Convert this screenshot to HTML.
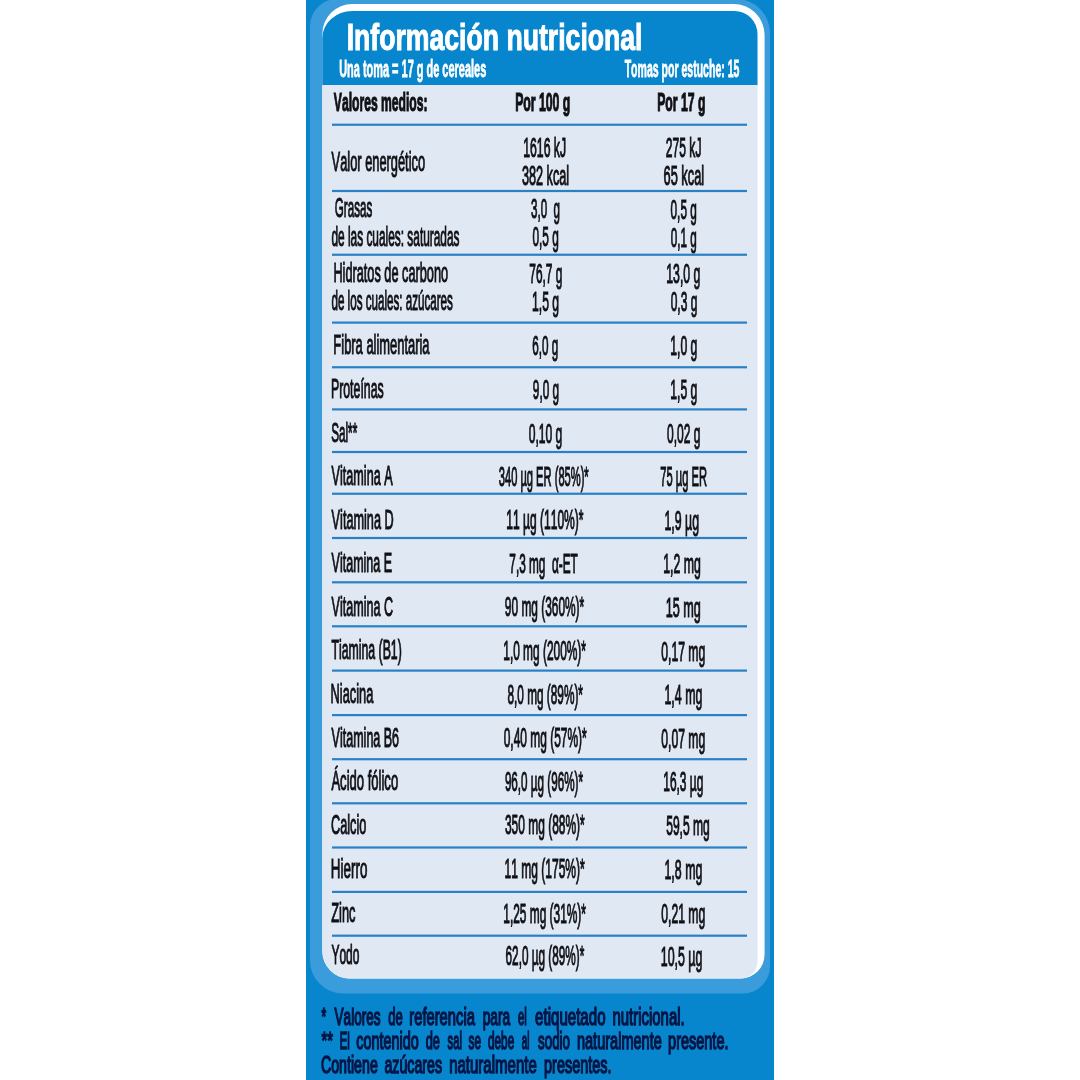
<!DOCTYPE html>
<html lang="es">
<head>
<meta charset="utf-8">
<title>Información nutricional</title>
<style>
html,body{margin:0;padding:0;background:#fff;}
body{width:1080px;height:1080px;overflow:hidden;}
svg{display:block;}
text{font-family:"Liberation Sans",sans-serif;font-kerning:none;white-space:pre;}
.b{font-weight:bold;}
</style>
</head>
<body>
<svg width="1080" height="1080" viewBox="0 0 1080 1080">
<rect x="0" y="0" width="1080" height="1080" fill="#ffffff"/>
<rect x="306" y="0" width="468" height="1080" fill="#0786ce"/>
<path d="M337 -1 L736 -1 A34 34 0 0 1 770 33 L770 966.5 A27 27 0 0 1 743 993.5 L343 993.5 A33 33 0 0 1 310 960.5 L310 26 A27 27 0 0 1 337 -1 Z" fill="#3a9cda"/>
<path d="M352.3 4 L733.6 4 A31 31 0 0 1 764.6 35 L764.6 954.5 A24 24 0 0 1 740.6 978.5 L349.3 978.5 A27 27 0 0 1 322.3 951.5 L322.3 34 A30 30 0 0 1 352.3 4 Z" fill="#ffffff"/>
<path d="M322.3 85.5 L322.3 38 A30 27 0 0 1 352.3 11 L734.5 11 A23 23 0 0 1 757.5 34 L757.5 85.5 Z" fill="#0786ce"/>
<path d="M322.3 85 L757.5 85 L757.5 961.5 A17 17 0 0 1 740.5 978.5 L349.3 978.5 A27 29 0 0 1 322.3 949.5 Z" fill="#e0e8f3"/>
<rect x="332" y="123.65" width="415" height="2.2" fill="#2881c5"/>
<rect x="332" y="189.90" width="415" height="2.2" fill="#2881c5"/>
<rect x="332" y="253.65" width="415" height="2.2" fill="#2881c5"/>
<rect x="332" y="321.50" width="415" height="2.2" fill="#2881c5"/>
<rect x="332" y="366.15" width="415" height="2.2" fill="#2881c5"/>
<rect x="332" y="408.30" width="415" height="2.2" fill="#2881c5"/>
<rect x="332" y="450.90" width="415" height="2.2" fill="#2881c5"/>
<rect x="332" y="492.65" width="415" height="2.2" fill="#2881c5"/>
<rect x="332" y="536.90" width="415" height="2.2" fill="#2881c5"/>
<rect x="332" y="581.20" width="415" height="2.2" fill="#2881c5"/>
<rect x="332" y="625.20" width="415" height="2.2" fill="#2881c5"/>
<rect x="332" y="669.50" width="415" height="2.2" fill="#2881c5"/>
<rect x="332" y="714.00" width="415" height="2.2" fill="#2881c5"/>
<rect x="332" y="758.10" width="415" height="2.2" fill="#2881c5"/>
<rect x="332" y="802.20" width="415" height="2.2" fill="#2881c5"/>
<rect x="332" y="846.40" width="415" height="2.2" fill="#2881c5"/>
<rect x="332" y="890.80" width="415" height="2.2" fill="#2881c5"/>
<rect x="332" y="934.60" width="415" height="2.2" fill="#2881c5"/>
<text class="b" transform="translate(346.67 50.20) scale(0.7200 1)" font-size="37" fill="#ffffff" stroke="#ffffff" stroke-width="0.9" vector-effect="non-scaling-stroke">Información nutricional</text>
<text class="b" transform="translate(339.14 77.00) scale(0.4770 1)" font-size="23" fill="#ffffff" stroke="#ffffff" stroke-width="0.6" vector-effect="non-scaling-stroke">Una toma = 17 g de cereales</text>
<text class="b" transform="translate(624.68 77.00) scale(0.4583 1)" font-size="23" fill="#ffffff" stroke="#ffffff" stroke-width="0.6" vector-effect="non-scaling-stroke">Tomas por estuche: 15</text>
<text class="b" transform="translate(333.87 111.10) scale(0.4816 1)" font-size="25.2" fill="#111115" stroke="#111115" stroke-width="0.9" vector-effect="non-scaling-stroke">Valores medios:</text>
<text class="b" transform="translate(515.13 111.10) scale(0.4869 1)" font-size="25.2" fill="#111115" stroke="#111115" stroke-width="0.9" vector-effect="non-scaling-stroke">Por 100 g</text>
<text class="b" transform="translate(657.13 111.10) scale(0.4851 1)" font-size="25.2" fill="#111115" stroke="#111115" stroke-width="0.9" vector-effect="non-scaling-stroke">Por 17 g</text>
<text transform="translate(331.62 170.60) scale(0.4585 1)" font-size="28" fill="#111115" stroke="#111115" stroke-width="0.85" vector-effect="non-scaling-stroke">Valor energético</text>
<text transform="translate(523.24 156.90) scale(0.4368 1)" font-size="28" fill="#111115" stroke="#111115" stroke-width="0.85" vector-effect="non-scaling-stroke">1616 kJ</text>
<text transform="translate(665.82 157.30) scale(0.4322 1)" font-size="28" fill="#111115" stroke="#111115" stroke-width="0.85" vector-effect="non-scaling-stroke">275 kJ</text>
<text transform="translate(521.94 184.70) scale(0.4529 1)" font-size="28" fill="#111115" stroke="#111115" stroke-width="0.85" vector-effect="non-scaling-stroke">382 kcal</text>
<text transform="translate(663.52 185.10) scale(0.4583 1)" font-size="28" fill="#111115" stroke="#111115" stroke-width="0.85" vector-effect="non-scaling-stroke">65 kcal</text>
<text transform="translate(334.84 217.30) scale(0.4144 1)" font-size="28" fill="#111115" stroke="#111115" stroke-width="0.85" vector-effect="non-scaling-stroke">Grasas</text>
<text transform="translate(530.98 217.90) scale(0.4153 1)" font-size="28" fill="#111115" stroke="#111115" stroke-width="0.85" vector-effect="non-scaling-stroke">3,0  g</text>
<text transform="translate(670.56 218.50) scale(0.4219 1)" font-size="28" fill="#111115" stroke="#111115" stroke-width="0.85" vector-effect="non-scaling-stroke">0,5 g</text>
<text transform="translate(331.43 245.70) scale(0.4242 1)" font-size="28" fill="#111115" stroke="#111115" stroke-width="0.85" vector-effect="non-scaling-stroke">de las cuales: saturadas</text>
<text transform="translate(532.46 246.30) scale(0.4236 1)" font-size="28" fill="#111115" stroke="#111115" stroke-width="0.85" vector-effect="non-scaling-stroke">0,5 g</text>
<text transform="translate(670.77 246.90) scale(0.4185 1)" font-size="28" fill="#111115" stroke="#111115" stroke-width="0.85" vector-effect="non-scaling-stroke">0,1 g</text>
<text transform="translate(333.38 282.10) scale(0.4550 1)" font-size="28" fill="#111115" stroke="#111115" stroke-width="0.85" vector-effect="non-scaling-stroke">Hidratos de carbono</text>
<text transform="translate(529.32 282.70) scale(0.4242 1)" font-size="28" fill="#111115" stroke="#111115" stroke-width="0.85" vector-effect="non-scaling-stroke">76,7 g</text>
<text transform="translate(666.24 283.30) scale(0.4384 1)" font-size="28" fill="#111115" stroke="#111115" stroke-width="0.85" vector-effect="non-scaling-stroke">13,0 g</text>
<text transform="translate(331.44 310.25) scale(0.4154 1)" font-size="28" fill="#111115" stroke="#111115" stroke-width="0.85" vector-effect="non-scaling-stroke">de los cuales: azúcares</text>
<text transform="translate(532.00 310.85) scale(0.4354 1)" font-size="28" fill="#111115" stroke="#111115" stroke-width="0.85" vector-effect="non-scaling-stroke">1,5 g</text>
<text transform="translate(670.71 311.45) scale(0.4278 1)" font-size="28" fill="#111115" stroke="#111115" stroke-width="0.85" vector-effect="non-scaling-stroke">0,3 g</text>
<text transform="translate(333.37 354.00) scale(0.4614 1)" font-size="28" fill="#111115" stroke="#111115" stroke-width="0.85" vector-effect="non-scaling-stroke">Fibra alimentaria</text>
<text transform="translate(532.33 354.60) scale(0.4175 1)" font-size="28" fill="#111115" stroke="#111115" stroke-width="0.85" vector-effect="non-scaling-stroke">6,0 g</text>
<text transform="translate(670.25 355.20) scale(0.4354 1)" font-size="28" fill="#111115" stroke="#111115" stroke-width="0.85" vector-effect="non-scaling-stroke">1,0 g</text>
<text transform="translate(330.91 398.10) scale(0.4411 1)" font-size="28" fill="#111115" stroke="#111115" stroke-width="0.85" vector-effect="non-scaling-stroke">Proteínas</text>
<text transform="translate(532.87 398.70) scale(0.4209 1)" font-size="28" fill="#111115" stroke="#111115" stroke-width="0.85" vector-effect="non-scaling-stroke">9,0 g</text>
<text transform="translate(670.25 399.30) scale(0.4354 1)" font-size="28" fill="#111115" stroke="#111115" stroke-width="0.85" vector-effect="non-scaling-stroke">1,5 g</text>
<text transform="translate(331.14 442.25) scale(0.4195 1)" font-size="28" fill="#111115" stroke="#111115" stroke-width="0.85" vector-effect="non-scaling-stroke">Sal**</text>
<text transform="translate(528.70 442.85) scale(0.4323 1)" font-size="28" fill="#111115" stroke="#111115" stroke-width="0.85" vector-effect="non-scaling-stroke">0,10 g</text>
<text transform="translate(666.96 443.45) scale(0.4290 1)" font-size="28" fill="#111115" stroke="#111115" stroke-width="0.85" vector-effect="non-scaling-stroke">0,02 g</text>
<text transform="translate(331.62 485.00) scale(0.4504 1)" font-size="28" fill="#111115" stroke="#111115" stroke-width="0.85" vector-effect="non-scaling-stroke">Vitamina A</text>
<text transform="translate(498.75 485.60) scale(0.3978 1)" font-size="28" fill="#111115" stroke="#111115" stroke-width="0.85" vector-effect="non-scaling-stroke">340 µg ER (85%)*</text>
<text transform="translate(660.35 486.20) scale(0.3984 1)" font-size="28" fill="#111115" stroke="#111115" stroke-width="0.85" vector-effect="non-scaling-stroke">75 µg ER</text>
<text transform="translate(331.62 528.50) scale(0.4532 1)" font-size="28" fill="#111115" stroke="#111115" stroke-width="0.85" vector-effect="non-scaling-stroke">Vitamina D</text>
<text transform="translate(506.26 529.10) scale(0.4302 1)" font-size="28" fill="#111115" stroke="#111115" stroke-width="0.85" vector-effect="non-scaling-stroke">11 µg (110%)*</text>
<text transform="translate(664.48 529.70) scale(0.4418 1)" font-size="28" fill="#111115" stroke="#111115" stroke-width="0.85" vector-effect="non-scaling-stroke">1,9 µg</text>
<text transform="translate(331.62 572.25) scale(0.4468 1)" font-size="28" fill="#111115" stroke="#111115" stroke-width="0.85" vector-effect="non-scaling-stroke">Vitamina E</text>
<text transform="translate(509.32 572.85) scale(0.4218 1)" font-size="28" fill="#111115" stroke="#111115" stroke-width="0.85" vector-effect="non-scaling-stroke">7,3 mg  α-ET</text>
<text transform="translate(663.24 573.45) scale(0.4396 1)" font-size="28" fill="#111115" stroke="#111115" stroke-width="0.85" vector-effect="non-scaling-stroke">1,2 mg</text>
<text transform="translate(331.62 615.60) scale(0.4486 1)" font-size="28" fill="#111115" stroke="#111115" stroke-width="0.85" vector-effect="non-scaling-stroke">Vitamina C</text>
<text transform="translate(504.87 616.20) scale(0.4251 1)" font-size="28" fill="#111115" stroke="#111115" stroke-width="0.85" vector-effect="non-scaling-stroke">90 mg (360%)*</text>
<text transform="translate(665.71 616.80) scale(0.4521 1)" font-size="28" fill="#111115" stroke="#111115" stroke-width="0.85" vector-effect="non-scaling-stroke">15 mg</text>
<text transform="translate(331.40 659.40) scale(0.4395 1)" font-size="28" fill="#111115" stroke="#111115" stroke-width="0.85" vector-effect="non-scaling-stroke">Tiamina (B1)</text>
<text transform="translate(503.27 660.00) scale(0.4253 1)" font-size="28" fill="#111115" stroke="#111115" stroke-width="0.85" vector-effect="non-scaling-stroke">1,0 mg (200%)*</text>
<text transform="translate(661.20 660.60) scale(0.4365 1)" font-size="28" fill="#111115" stroke="#111115" stroke-width="0.85" vector-effect="non-scaling-stroke">0,17 mg</text>
<text transform="translate(330.62 702.90) scale(0.4573 1)" font-size="28" fill="#111115" stroke="#111115" stroke-width="0.85" vector-effect="non-scaling-stroke">Niacina</text>
<text transform="translate(507.41 703.50) scale(0.4224 1)" font-size="28" fill="#111115" stroke="#111115" stroke-width="0.85" vector-effect="non-scaling-stroke">8,0 mg (89%)*</text>
<text transform="translate(664.48 704.10) scale(0.4427 1)" font-size="28" fill="#111115" stroke="#111115" stroke-width="0.85" vector-effect="non-scaling-stroke">1,4 mg</text>
<text transform="translate(331.62 746.50) scale(0.4472 1)" font-size="28" fill="#111115" stroke="#111115" stroke-width="0.85" vector-effect="non-scaling-stroke">Vitamina B6</text>
<text transform="translate(503.71 747.10) scale(0.4269 1)" font-size="28" fill="#111115" stroke="#111115" stroke-width="0.85" vector-effect="non-scaling-stroke">0,40 mg (57%)*</text>
<text transform="translate(661.20 747.70) scale(0.4365 1)" font-size="28" fill="#111115" stroke="#111115" stroke-width="0.85" vector-effect="non-scaling-stroke">0,07 mg</text>
<text transform="translate(331.40 790.25) scale(0.4667 1)" font-size="28" fill="#111115" stroke="#111115" stroke-width="0.85" vector-effect="non-scaling-stroke">Ácido fólico</text>
<text transform="translate(504.88 790.85) scale(0.4170 1)" font-size="28" fill="#111115" stroke="#111115" stroke-width="0.85" vector-effect="non-scaling-stroke">96,0 µg (96%)*</text>
<text transform="translate(663.27 791.45) scale(0.4265 1)" font-size="28" fill="#111115" stroke="#111115" stroke-width="0.85" vector-effect="non-scaling-stroke">16,3 µg</text>
<text transform="translate(331.03 833.50) scale(0.4541 1)" font-size="28" fill="#111115" stroke="#111115" stroke-width="0.85" vector-effect="non-scaling-stroke">Calcio</text>
<text transform="translate(504.97 834.10) scale(0.4273 1)" font-size="28" fill="#111115" stroke="#111115" stroke-width="0.85" vector-effect="non-scaling-stroke">350 mg (88%)*</text>
<text transform="translate(666.19 834.70) scale(0.4316 1)" font-size="28" fill="#111115" stroke="#111115" stroke-width="0.85" vector-effect="non-scaling-stroke">59,5 mg</text>
<text transform="translate(330.82 877.50) scale(0.4796 1)" font-size="28" fill="#111115" stroke="#111115" stroke-width="0.85" vector-effect="non-scaling-stroke">Hierro</text>
<text transform="translate(504.51 878.10) scale(0.4297 1)" font-size="28" fill="#111115" stroke="#111115" stroke-width="0.85" vector-effect="non-scaling-stroke">11 mg (175%)*</text>
<text transform="translate(664.48 878.70) scale(0.4427 1)" font-size="28" fill="#111115" stroke="#111115" stroke-width="0.85" vector-effect="non-scaling-stroke">1,8 mg</text>
<text transform="translate(331.27 921.90) scale(0.4584 1)" font-size="28" fill="#111115" stroke="#111115" stroke-width="0.85" vector-effect="non-scaling-stroke">Zinc</text>
<text transform="translate(503.27 922.50) scale(0.4253 1)" font-size="28" fill="#111115" stroke="#111115" stroke-width="0.85" vector-effect="non-scaling-stroke">1,25 mg (31%)*</text>
<text transform="translate(661.20 923.10) scale(0.4365 1)" font-size="28" fill="#111115" stroke="#111115" stroke-width="0.85" vector-effect="non-scaling-stroke">0,21 mg</text>
<text transform="translate(331.41 964.40) scale(0.4292 1)" font-size="28" fill="#111115" stroke="#111115" stroke-width="0.85" vector-effect="non-scaling-stroke">Yodo</text>
<text transform="translate(505.58 965.00) scale(0.4200 1)" font-size="28" fill="#111115" stroke="#111115" stroke-width="0.85" vector-effect="non-scaling-stroke">62,0 µg (89%)*</text>
<text transform="translate(660.73 965.60) scale(0.4431 1)" font-size="28" fill="#111115" stroke="#111115" stroke-width="0.85" vector-effect="non-scaling-stroke">10,5 µg</text>
<text transform="translate(321.43 1024.90) scale(0.4954 1)" font-size="24" fill="#051544" stroke="#051544" stroke-width="1.25" vector-effect="non-scaling-stroke">* </text>
<text transform="translate(334.57 1024.90) scale(0.5653 1)" font-size="24" fill="#051544" stroke="#051544" stroke-width="1.25" vector-effect="non-scaling-stroke">Valores </text>
<text transform="translate(388.27 1024.90) scale(0.5463 1)" font-size="24" fill="#051544" stroke="#051544" stroke-width="1.25" vector-effect="non-scaling-stroke">de </text>
<text transform="translate(409.24 1024.90) scale(0.6159 1)" font-size="24" fill="#051544" stroke="#051544" stroke-width="1.25" vector-effect="non-scaling-stroke">referencia </text>
<text transform="translate(482.64 1024.90) scale(0.5711 1)" font-size="24" fill="#051544" stroke="#051544" stroke-width="1.25" vector-effect="non-scaling-stroke">para </text>
<text transform="translate(517.94 1024.90) scale(0.4765 1)" font-size="24" fill="#051544" stroke="#051544" stroke-width="1.25" vector-effect="non-scaling-stroke">el </text>
<text transform="translate(535.08 1024.90) scale(0.6291 1)" font-size="24" fill="#051544" stroke="#051544" stroke-width="1.25" vector-effect="non-scaling-stroke">etiquetado </text>
<text transform="translate(612.53 1024.90) scale(0.6221 1)" font-size="24" fill="#051544" stroke="#051544" stroke-width="1.25" vector-effect="non-scaling-stroke">nutricional.</text>
<text transform="translate(321.39 1048.60) scale(0.6167 1)" font-size="24" fill="#051544" stroke="#051544" stroke-width="1.25" vector-effect="non-scaling-stroke">** </text>
<text transform="translate(339.70 1048.60) scale(0.4700 1)" font-size="24" fill="#051544" stroke="#051544" stroke-width="1.25" vector-effect="non-scaling-stroke">El </text>
<text transform="translate(356.21 1048.60) scale(0.6021 1)" font-size="24" fill="#051544" stroke="#051544" stroke-width="1.25" vector-effect="non-scaling-stroke">contenido </text>
<text transform="translate(425.69 1048.60) scale(0.5341 1)" font-size="24" fill="#051544" stroke="#051544" stroke-width="1.25" vector-effect="non-scaling-stroke">de </text>
<text transform="translate(447.61 1048.60) scale(0.4664 1)" font-size="24" fill="#051544" stroke="#051544" stroke-width="1.25" vector-effect="non-scaling-stroke">sal </text>
<text transform="translate(468.50 1048.60) scale(0.4934 1)" font-size="24" fill="#051544" stroke="#051544" stroke-width="1.25" vector-effect="non-scaling-stroke">se </text>
<text transform="translate(487.93 1048.60) scale(0.4940 1)" font-size="24" fill="#051544" stroke="#051544" stroke-width="1.25" vector-effect="non-scaling-stroke">debe </text>
<text transform="translate(521.80 1048.60) scale(0.4142 1)" font-size="24" fill="#051544" stroke="#051544" stroke-width="1.25" vector-effect="non-scaling-stroke">al </text>
<text transform="translate(538.05 1048.60) scale(0.5557 1)" font-size="24" fill="#051544" stroke="#051544" stroke-width="1.25" vector-effect="non-scaling-stroke">sodio </text>
<text transform="translate(576.96 1048.60) scale(0.6058 1)" font-size="24" fill="#051544" stroke="#051544" stroke-width="1.25" vector-effect="non-scaling-stroke">naturalmente </text>
<text transform="translate(668.09 1048.60) scale(0.6037 1)" font-size="24" fill="#051544" stroke="#051544" stroke-width="1.25" vector-effect="non-scaling-stroke">presente.</text>
<text transform="translate(320.90 1073.20) scale(0.5923 1)" font-size="24" fill="#051544" stroke="#051544" stroke-width="1.25" vector-effect="non-scaling-stroke">Contiene </text>
<text transform="translate(384.42 1073.20) scale(0.5922 1)" font-size="24" fill="#051544" stroke="#051544" stroke-width="1.25" vector-effect="non-scaling-stroke">azúcares </text>
<text transform="translate(449.13 1073.20) scale(0.6262 1)" font-size="24" fill="#051544" stroke="#051544" stroke-width="1.25" vector-effect="non-scaling-stroke">naturalmente </text>
<text transform="translate(544.10 1073.20) scale(0.6005 1)" font-size="24" fill="#051544" stroke="#051544" stroke-width="1.25" vector-effect="non-scaling-stroke">presentes.</text>
</svg>
</body>
</html>
